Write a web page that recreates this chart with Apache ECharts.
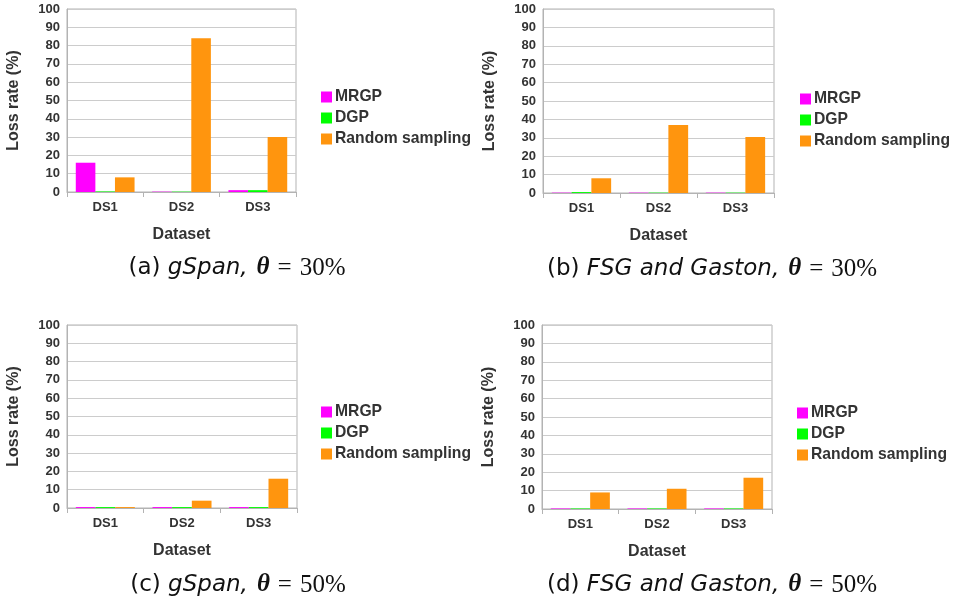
<!DOCTYPE html>
<html>
<head>
<meta charset="utf-8">
<script src="https://cdn.jsdelivr.net/npm/echarts@6/dist/echarts.min.js"></script>
<style>html,body{margin:0;padding:0;background:#fff;}#c{width:954px;height:603px;}</style>
</head>
<body>
<div id="c"></div>
<script>
var categories = ['DS1', 'DS2', 'DS3'];
var seriesNames = ['MRGP', 'DGP', 'Random sampling'];
var yTicks = [0, 10, 20, 30, 40, 50, 60, 70, 80, 90, 100];

// (a) gSpan, theta = 30%
var aMRGP = [16, 0.2, 1];
var aDGP = [0.3, 0.2, 1];
var aRandom = [8, 84, 30];
// (b) FSG and Gaston, theta = 30%
var bMRGP = [0.2, 0.2, 0.2];
var bDGP = [0.5, 0.2, 0.2];
var bRandom = [8, 37, 30.5];
// (c) gSpan, theta = 50%
var cMRGP = [0.5, 0.5, 0.5];
var cDGP = [0.5, 0.5, 0.5];
var cRandom = [0.5, 4, 16];
// (d) FSG and Gaston, theta = 50%
var dMRGP = [0.3, 0.3, 0.3];
var dDGP = [0.3, 0.3, 0.3];
var dRandom = [9, 11, 17];

var colors = ['#ff00ff', '#00ff00', '#ff950e'];
var panels = [
  {data: [aMRGP, aDGP, aRandom], grid: {left: 67, top: 9, width: 229, height: 183}, legend: {left: 316, top: 84}},
  {data: [bMRGP, bDGP, bRandom], grid: {left: 543, top: 9, width: 231, height: 184}, legend: {left: 795, top: 86}},
  {data: [cMRGP, cDGP, cRandom], grid: {left: 67, top: 325, width: 230, height: 183}, legend: {left: 316, top: 399}},
  {data: [dMRGP, dDGP, dRandom], grid: {left: 542, top: 325, width: 230, height: 184}, legend: {left: 792, top: 400}}
];
var captions = [
  {x: 237, y: 268, label: '(a) ', alg: 'gSpan', pct: '30%'},
  {x: 712, y: 269, label: '(b) ', alg: 'FSG and Gaston', pct: '30%'},
  {x: 238, y: 585, label: '(c) ', alg: 'gSpan', pct: '50%'},
  {x: 712, y: 585, label: '(d) ', alg: 'FSG and Gaston', pct: '50%'}
];

var font = 'Liberation Sans, Arial, sans-serif';
var txt = '#333333';
var grids = [], xAxes = [], yAxes = [], series = [], legends = [], graphics = [];
panels.forEach(function (p, i) {
  grids.push(Object.assign({show: true, borderColor: '#b3b3b3', borderWidth: 1, containLabel: false}, p.grid));
  xAxes.push({
    type: 'category', gridIndex: i, data: categories,
    axisLine: {lineStyle: {color: '#b3b3b3'}},
    axisTick: {show: true, length: 5, lineStyle: {color: '#b3b3b3'}},
    axisLabel: {color: txt, fontFamily: font, fontWeight: 'bold', fontSize: 13, margin: 9},
    name: 'Dataset', nameLocation: 'middle', nameGap: 35,
    nameTextStyle: {color: txt, fontFamily: font, fontWeight: 'bold', fontSize: 16}
  });
  yAxes.push({
    type: 'value', gridIndex: i, min: 0, max: 100, interval: 10,
    axisLine: {show: true, lineStyle: {color: '#b3b3b3'}},
    axisTick: {show: false},
    splitLine: {lineStyle: {color: '#cccccc'}},
    axisLabel: {color: txt, fontFamily: font, fontWeight: 'bold', fontSize: 13, margin: 7,
      formatter: function (v) { return yTicks.indexOf(v) >= 0 ? String(v) : ''; }},
    name: 'Loss rate (%)', nameLocation: 'middle', nameGap: 45,
    nameTextStyle: {color: txt, fontFamily: font, fontWeight: 'bold', fontSize: 16}
  });
  p.data.forEach(function (d, k) {
    series.push({
      type: 'bar', name: seriesNames[k], xAxisIndex: i, yAxisIndex: i, data: d,
      barGap: '0%', barCategoryGap: '23%',
      itemStyle: {color: colors[k]}, animation: false
    });
  });
  legends.push(Object.assign({
    orient: 'vertical', data: seriesNames, icon: 'rect', itemWidth: 11, itemHeight: 11,
    itemGap: 5, selectedMode: false,
    textStyle: {color: txt, fontFamily: font, fontWeight: 'bold', fontSize: 15.7, padding: [0, 0, 0, -2]}
  }, p.legend));
});
captions.forEach(function (c) {
  graphics.push({
    type: 'text', x: c.x, y: c.y,
    style: {
      text: '{n|' + c.label + '}{i|' + c.alg + ',}{t|θ}{e|=}{r|' + c.pct + '}',
      align: 'center', verticalAlign: 'middle',
      rich: {
        n: {fontFamily: 'DejaVu Sans', fontSize: 23, fill: '#111', fontWeight: 'normal'},
        i: {fontFamily: 'DejaVu Sans', fontStyle: 'italic', fontSize: 23, fill: '#111', padding: [0, 9, 0, 0]},
        t: {fontFamily: 'Liberation Serif', fontStyle: 'italic', fontWeight: 'bold', fontSize: 25, fill: '#111'},
        e: {fontFamily: 'Liberation Serif', fontSize: 25, fill: '#111', padding: [0, 8, 0, 8]},
        r: {fontFamily: 'Liberation Serif', fontSize: 25, fill: '#111'}
      }
    }
  });
});

var chart = echarts.init(document.getElementById('c'), null, {renderer: 'canvas'});
chart.setOption({
  animation: false,
  grid: grids, xAxis: xAxes, yAxis: yAxes, series: series, legend: legends,
  graphic: graphics
});
</script>
</body>
</html>
